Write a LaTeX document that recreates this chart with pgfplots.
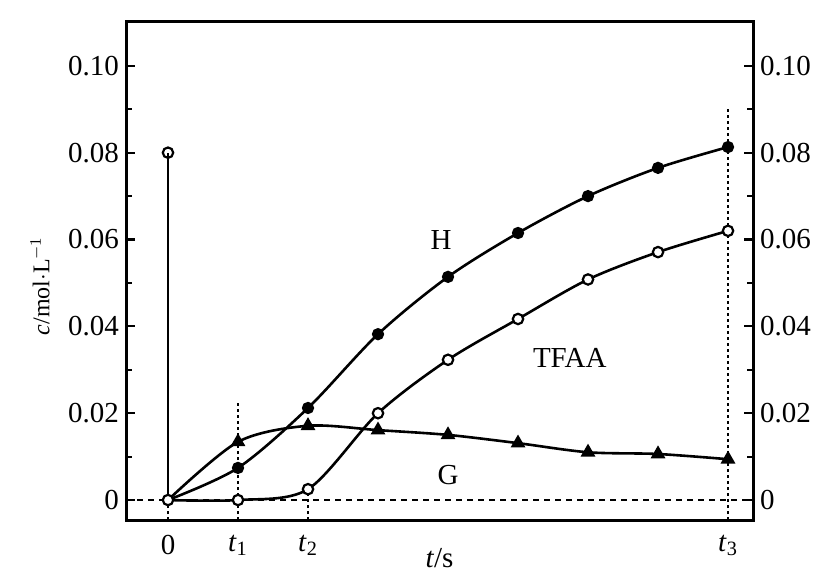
\documentclass[border=0pt]{standalone}
\usepackage{fontspec}
\setmainfont{Liberation Serif}
\usepackage{pgfplots}
\pgfplotsset{compat=1.18}
\begin{document}
\begin{tikzpicture}
\useasboundingbox (-63pt,-26pt) rectangle (348pt,260pt);
\pgfplotsset{common/.style={
  scale only axis, width=313.5pt, height=249pt,
  xmin=-0.6, xmax=8.357, ymin=-0.0046, ymax=0.1101,
  font=\fontsize{14.5}{17}\selectfont,
  /pgf/number format/assume math mode=true,
  ytick={0,0.02,0.04,0.06,0.08,0.10},
  yticklabels={0,0.02,0.04,0.06,0.08,0.10},
  minor y tick num=1,
  major tick length=4.5pt, minor tick length=3pt,
  tick style={line width=1.1pt, black},
  axis line style={line width=1.5pt},
}}
\begin{axis}[common,
  xtick={0,1,2,8},
  xticklabels={0,\textit{t}\textsubscript{1},\textit{t}\textsubscript{2},\textit{t}\textsubscript{3}},
  xtick style={draw=none},
  xticklabel style={yshift=-4pt},
  ytick pos=both,
  xlabel={\textit{t}/s},
  xlabel style={at={(axis description cs:0.5,0)}, anchor=center, yshift=-19pt},
  ylabel={\textit{c}/mol$\cdot$L\textsuperscript{$-1$}},
  ylabel style={at={(axis description cs:-0.137,0.47)}, anchor=center, font=\fontsize{12}{14}\selectfont},
  clip=false,
]
% reference lines
\addplot[black, line width=1pt, dash pattern=on 3pt off 2.5pt] coordinates {(-0.6,0) (8.357,0)};
\addplot[black, line width=1pt, dash pattern=on 1.5pt off 1.5pt] coordinates {(1,-0.0046) (1,0.0225)};
\addplot[black, line width=1pt, dash pattern=on 1.5pt off 1.5pt] coordinates {(2,-0.0046) (2,0.0025)};
\addplot[black, line width=1pt, dash pattern=on 1.5pt off 1.5pt] coordinates {(8,-0.0046) (8,0.0903)};
\addplot[black, line width=1pt, dash pattern=on 1.5pt off 1.5pt] coordinates {(0,-0.0046) (0,0)};
% initial vertical line
\addplot[black, line width=1.4pt, mark=o, mark size=2.6pt, mark indices={2}, mark options={fill=white, line width=1.1pt}] coordinates {(0,0) (0,0.08)};
% G
\addplot[black, line width=1.3pt, smooth, mark=triangle*, mark size=3pt, mark indices={2,3,4,5,6,7,8,9}] coordinates {
(0,0) (1,0.0134) (2,0.0171) (3,0.0161) (4,0.0150) (5,0.0131) (6,0.0110) (7,0.0106) (8,0.0094)};
% H
\addplot[black, line width=1.3pt, smooth, mark=*, mark size=2.4pt, mark indices={2,3,4,5,6,7,8,9}] coordinates {
(0,0) (1,0.0074) (2,0.0212) (3,0.0382) (4,0.0514) (5,0.0615) (6,0.0700) (7,0.0765) (8,0.0813)};
% TFAA
\addplot[black, line width=1.3pt, smooth, mark=*, mark size=2.6pt, mark options={fill=white, line width=1.1pt}] coordinates {
(0,0) (1,0) (2,0.0025) (3,0.0200) (4,0.0323) (5,0.0417) (6,0.0508) (7,0.0571) (8,0.0620)};
\node[font=\fontsize{14.5}{17}\selectfont] at (axis cs:3.9,0.0599) {H};
\node[font=\fontsize{14.5}{17}\selectfont] at (axis cs:5.74,0.0327) {TFAA};
\node[font=\fontsize{14.5}{17}\selectfont] at (axis cs:4.0,0.0058) {G};
\end{axis}
\begin{axis}[common,
  hide x axis,
  axis y line*=right,
  ytick pos=right, yticklabel pos=right,
  ytick style={draw=none}, minor y tick num=0,
  axis line style={draw=none},
]
\end{axis}
\end{tikzpicture}
\end{document}
